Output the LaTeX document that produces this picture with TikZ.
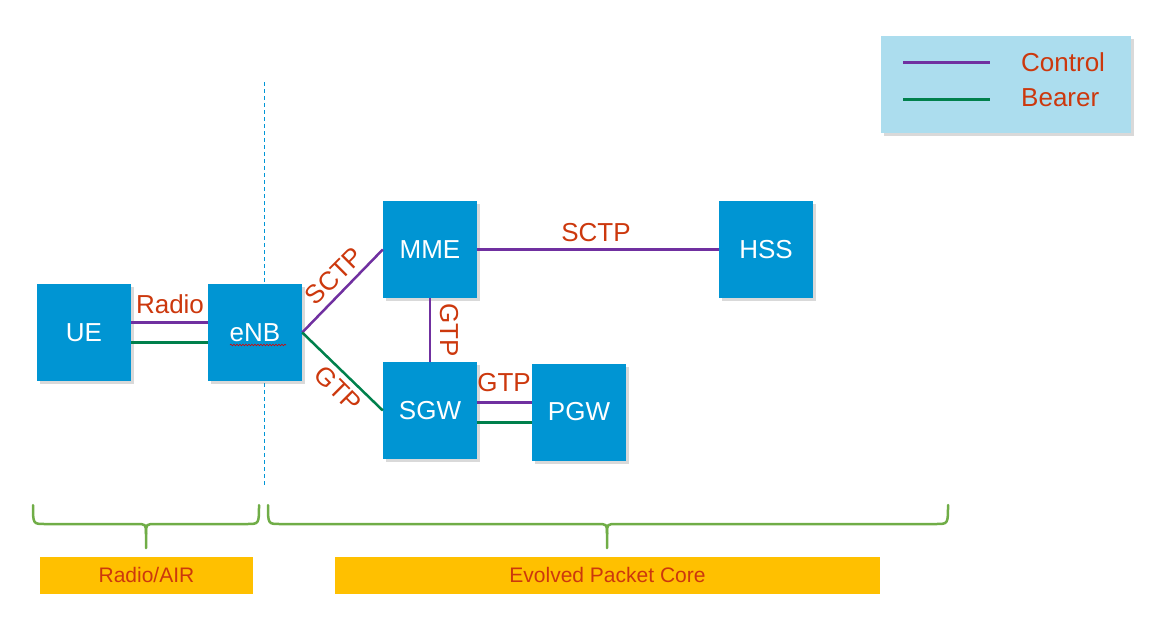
\documentclass[tikz,border=0pt]{standalone}
\usepackage{fontspec}
\setmainfont{Liberation Sans}
\usetikzlibrary{shadows,decorations.pathmorphing}
\definecolor{boxblue}{RGB}{0,149,211}
\definecolor{ctrl}{RGB}{112,48,160}
\definecolor{bear}{RGB}{0,128,76}
\definecolor{lbl}{RGB}{204,56,13}
\definecolor{legbg}{RGB}{172,221,238}
\definecolor{brgreen}{RGB}{112,173,71}
\definecolor{barorange}{RGB}{255,192,0}
\definecolor{dashblue}{RGB}{0,150,214}
\tikzset{
  elem/.style={fill=boxblue, text=white, minimum width=94pt, minimum height=97pt, inner sep=0pt,
    font=\fontsize{26}{30}\selectfont,
    drop shadow={opacity=0.3, shadow xshift=3pt, shadow yshift=-3pt}},
  ctrlline/.style={draw=ctrl, line width=3pt},
  bearline/.style={draw=bear, line width=3pt},
  lab/.style={text=lbl, font=\fontsize{26}{30}\selectfont, inner sep=0pt},
  brace/.style={draw=brgreen, line width=2.5pt, line cap=round, line join=round},
  barbox/.style={fill=barorange, text=lbl, inner sep=0pt, minimum height=37pt, font=\fontsize{21}{25}\selectfont}
}
\begin{document}
\begin{tikzpicture}[x=1pt,y=-1pt]
\useasboundingbox (0,0) rectangle (1154,630);
% divider
\draw[dashblue, line width=0.8pt, dash pattern=on 4pt off 3pt] (264,82) -- (264,486);
% legend
\node[fill=legbg, minimum width=250pt, minimum height=97pt, inner sep=0pt,
  drop shadow={opacity=0.3, shadow xshift=3pt, shadow yshift=-3pt}] (legend) at (1006,84.5) {};
\coordinate (lc1) at (903,62);
\coordinate (lc2) at (990,62);
\coordinate (lb1) at (903,99);
\coordinate (lb2) at (990,99);
\draw[ctrlline] (lc1) -- (lc2);
\draw[bearline] (lb1) -- (lb2);
\node[lab, anchor=west] (lctrl) at (1021,62) {Control};
\node[lab, anchor=west] (lbear) at (1021,98) {Bearer};
% elements
\node[elem] (ue) at (84,332.5) {UE};
\node[elem] (enb) at (255,332.5) {eNB};
\node[elem] (mme) at (430,249.5) {MME};
\node[elem] (sgw) at (430,410.5) {SGW};
\node[elem] (pgw) at (579,412) {PGW};
\node[elem] (hss) at (766,249.5) {HSS};
% spell-check squiggle under eNB
\draw[red!85!black, line width=0.6pt, decorate, decoration={snake, amplitude=0.8pt, segment length=3pt}] (230,345) -- (286,345);
% connectors
\draw[ctrlline] (ue.east |- 0,322) -- (enb.west |- 0,322);
\draw[bearline] (ue.east |- 0,342) -- (enb.west |- 0,342);
\draw[line width=2.5pt, draw=ctrl] (enb.east) -- (mme.west);
\draw[line width=2.5pt, draw=bear] (enb.east) -- (sgw.west);
\draw[line width=2.5pt, draw=ctrl] (mme.south) -- (sgw.north);
\draw[ctrlline] (mme.east) -- (hss.west);
\draw[ctrlline] (sgw.east |- 0,402) -- (pgw.west |- 0,402);
\draw[bearline] (sgw.east |- 0,422) -- (pgw.west |- 0,422);
% labels
\node[lab] (lradio) at (170,304) {Radio};
\node[lab, rotate=45] (lsctp1) at (334,276) {SCTP};
\node[lab, rotate=-45] (lgtp1) at (338,389) {GTP};
\node[lab, rotate=-90] (lgtp2) at (449,330) {GTP};
\node[lab] (lsctp2) at (596,233) {SCTP};
\node[lab] (lgtp3) at (504,383) {GTP};
% braces
\draw[brace] (33,505) .. controls (33,524) and (33,524) .. (45,524) -- (136,524)
  .. controls (146,524) and (146,524) .. (146,534) -- (146,548);
\draw[brace] (146,534) .. controls (146,524) and (146,524) .. (156,524) -- (247,524)
  .. controls (259,524) and (259,524) .. (259,505);
\draw[brace] (268,505) .. controls (268,524) and (268,524) .. (280,524) -- (597,524)
  .. controls (607,524) and (607,524) .. (607,534) -- (607,548);
\draw[brace] (607,534) .. controls (607,524) and (607,524) .. (617,524) -- (936,524)
  .. controls (948,524) and (948,524) .. (948,505);
% bars
\node[barbox, minimum width=213pt] (radioair) at (146.5,575) {Radio/AIR};
\node[barbox, minimum width=545pt] (epc) at (607.5,575) {Evolved Packet Core};
\end{tikzpicture}
\end{document}
